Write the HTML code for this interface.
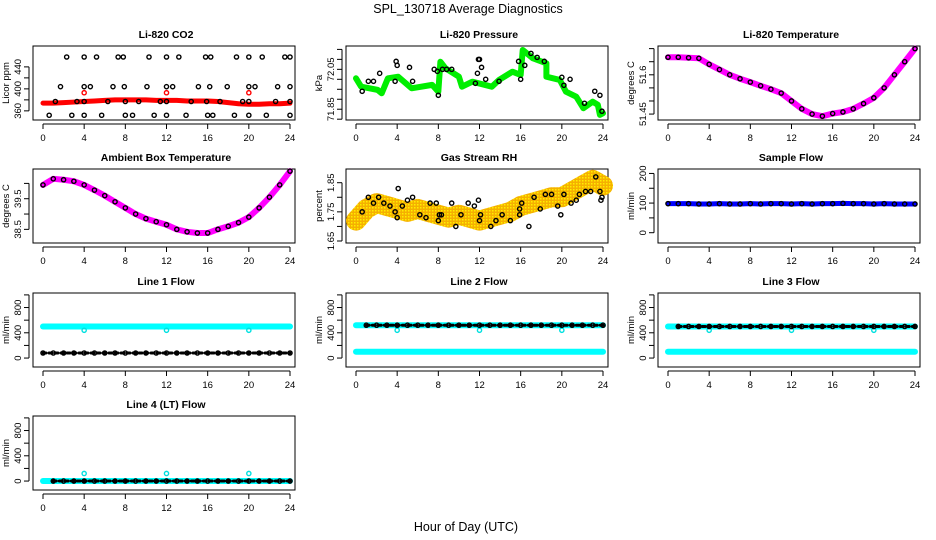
<!DOCTYPE html>
<html><head><meta charset="utf-8">
<style>
body{margin:0;background:#fff;}
svg{display:block;font-family:"Liberation Sans",Arial,sans-serif;}
</style></head>
<body>
<svg id="chart" width="936" height="540" viewBox="0 0 936 540">
<defs>
<pattern id="rhpat" width="3" height="3" patternUnits="userSpaceOnUse">
<rect width="3" height="3" fill="#f5b000"/><rect width="1.5" height="1.5" fill="#ffee00"/>
</pattern>
</defs>
<text x="468" y="13" text-anchor="middle" font-size="12.5">SPL_130718  Average Diagnostics</text>
<text x="466" y="531" text-anchor="middle" font-size="12.5">Hour of Day (UTC)</text>
</svg>
<script>
// ---- data ----
const hours = [0,1,2,3,4,5,6,7,8,9,10,11,12,13,14,15,16,17,18,19,20,21,22,23,24];
const xTicks = [0,4,8,12,16,20,24];

const co2Band = [374,374,375,376,377,378,379,380,380,380,380,379,379,379,378,378,378,377,375,373,372,372,373,373,374];
const co2RedH = [4,12,20];
const co2RedV = [393,393,393];
const co2BlkH = [2.3,4,5.2,7.3,7.8,10.3,12,13.2,15.8,16.3,18.8,20,21.3,23.5,24,
 1.7,4,4.6,6.8,7.9,10.1,12,12.6,15.1,16.2,17.9,20,20.6,22.8,24,
 1.2,3.3,4,6.3,8,9.3,11.4,12,14.4,15.9,17.2,19.4,20,22.6,24,
 0.6,2.8,4,5.7,8,8.7,10.8,12,13.9,16,16.5,18.6,20,21.7,24];
const co2BlkV = [458,458,458,458,458,458,458,458,458,458,458,458,458,458,458,
 404,404,404,404,404,404,404,404,404,404,404,404,404,404,404,
 377,377,377,377,377,377,377,377,377,377,377,377,377,377,377,
 352,352,352,352,352,352,352,352,352,352,352,352,352,352,352];

const presBandH = [0,0.5,2.1,2.5,3.1,4.1,5.4,7.4,8.0,8.2,8.7,10.0,10.3,11.3,13.2,13.9,15.2,16.0,16.2,17.2,18.5,18.5,19.8,20.4,21.4,22.1,23.0,23.5,23.7,24];
const presBandV = [72.005,71.963,71.947,71.93,72.005,72.013,71.955,71.972,71.938,72.088,72.055,72.013,71.963,71.988,71.963,71.997,72.038,72.022,72.147,72.105,72.08,72.013,71.997,71.938,71.913,71.855,71.888,71.872,71.822,71.83];
const presBlkH = [0.6,1.2,1.7,2.3,3.8,3.9,4.0,5.2,5.5,7.6,7.9,8.0,8.4,8.8,9.3,11.6,11.8,11.9,12.0,12.2,12.6,13.9,15.8,16.0,16.4,17.0,17.6,18.3,20.0,20.2,20.8,22.2,23.2,23.7,23.9];
const presBlkV = [71.94,71.99,71.99,72.03,71.99,72.09,72.07,72.06,71.99,72.05,72.04,71.92,72.05,72.05,72.05,71.98,72.03,72.1,72.1,72.06,72.0,71.99,72.09,72.0,72.07,72.13,72.11,72.09,72.01,71.97,72.0,71.88,71.94,71.92,71.84];

const ltBand = [51.667,51.667,51.665,51.663,51.640,51.620,51.600,51.585,51.572,51.558,51.545,51.530,51.500,51.470,51.450,51.442,51.452,51.458,51.470,51.490,51.512,51.550,51.600,51.650,51.700];
const ambBand = [39.95,40.15,40.12,40.07,39.95,39.78,39.6,39.4,39.2,39.0,38.85,38.75,38.65,38.5,38.42,38.38,38.38,38.5,38.6,38.72,38.9,39.2,39.55,39.95,40.4];

const rhBand = [1.72,1.76,1.78,1.77,1.76,1.75,1.76,1.75,1.74,1.73,1.74,1.73,1.72,1.73,1.74,1.75,1.77,1.78,1.79,1.80,1.80,1.82,1.84,1.86,1.84];
const rhBlkH = [0.6,1.2,1.7,2.2,2.7,3.3,3.8,4.0,4.1,4.5,5.0,5.5,6.2,6.8,7.2,7.8,8.0,8.1,8.3,9.3,9.7,10.2,10.9,11.5,11.9,12.0,12.1,13.1,13.6,14.2,15.0,15.9,15.9,16.1,16.8,17.3,17.9,18.4,19.0,19.6,19.9,20.2,20.9,21.4,21.7,22.3,22.8,23.3,23.7,23.8,23.9];
const rhBlkV = [1.75,1.80,1.78,1.80,1.78,1.77,1.75,1.73,1.83,1.77,1.79,1.80,1.74,1.73,1.78,1.78,1.72,1.74,1.74,1.78,1.70,1.74,1.78,1.77,1.79,1.72,1.74,1.70,1.72,1.74,1.72,1.74,1.76,1.78,1.70,1.80,1.76,1.81,1.81,1.77,1.74,1.81,1.78,1.79,1.81,1.82,1.82,1.87,1.82,1.79,1.80];

const sampleFlow = [98,98,98,97,97,98,97,97,98,97,98,98,97,98,97,98,98,99,98,98,97,98,97,97,97];
const l1Cyan = [500,500,500,500,500,500,500,500,500,500,500,500,500,500,500,500,500,500,500,500,500,500,500,500,500];
const l1Black = [80,80,80,80,80,80,80,80,80,80,80,80,80,80,80,80,80,80,80,80,80,80,80,80,80];
const l2Black = [520,520,520,520,520,520,520,520,520,520,520,520,520,520,520,520,520,520,520,520,520,520,520,520,520];
const l2Cyan = [100,100,100,100,100,100,100,100,100,100,100,100,100,100,100,100,100,100,100,100,100,100,100,100,100];
const l3Black = [500,500,500,500,500,500,500,500,500,500,500,500,500,500,500,500,500,500,500,500,500,500,500,500,500];
const l3Cyan = [100,100,100,100,100,100,100,100,100,100,100,100,100,100,100,100,100,100,100,100,100,100,100,100,100];
const l4Black = [0,0,0,0,0,0,0,0,0,0,0,0,0,0,0,0,0,0,0,0,0,0,0,0,0];
const dipH = [4,12,20];
const l1Dip = [440,440,440];
const l2Dip = [440,440,440];
const l3Dip = [440,440,440];
const l4Dip = [120,120,120];

// ---- drawing ----
const svg = document.getElementById('chart');
const NS = 'http://www.w3.org/2000/svg';
const colX = [43,356,668];
const rowT = [46,169,293,416];
function mk(tag, attrs, parent){
  const e = document.createElementNS(NS, tag);
  for (const k in attrs) e.setAttribute(k, attrs[k]);
  (parent||svg).appendChild(e);
  return e;
}
function panel(name, col, row, title, ylab, dom, ticks, labTicks){
  const x0 = colX[col], T = rowT[row];
  const g = mk('g', {});
  
  
  const xs = h => x0 + h/24*247;
  const ys = v => T + 72 - (v - dom[0])/(dom[1]-dom[0])*72;
  const box = mk('rect', {x:x0-10, y:T, width:262, height:74, fill:'none', stroke:'#000', 'stroke-width':1}, g);
  
  
  const t = mk('text', {x:x0+123, y:T-8, 'text-anchor':'middle', 'font-size':10.5, 'font-weight':'bold'}, g);
  t.textContent = title;
  
  
  const xa = mk('g', {}, g);
  
  
  mk('line', {x1:xs(0), x2:xs(24), y1:T+78, y2:T+78, stroke:'#000'}, xa);
  xTicks.forEach(h => {
    mk('line', {x1:xs(h), x2:xs(h), y1:T+78, y2:T+83, stroke:'#000'}, xa);
    const l = mk('text', {x:xs(h), y:T+95, 'text-anchor':'middle', 'font-size':9.5}, xa);
    l.textContent = h;
  });
  const ya = mk('g', {}, g);
  
  
  mk('line', {x1:x0-14, x2:x0-14, y1:ys(ticks[0]), y2:ys(ticks[ticks.length-1]), stroke:'#000'}, ya);
  ticks.forEach(v => {
    mk('line', {x1:x0-14, x2:x0-19, y1:ys(v), y2:ys(v), stroke:'#000'}, ya);
  });
  labTicks.forEach(v => {
    const l = mk('text', {x:0, y:0, 'text-anchor':'middle', 'font-size':9.5, transform:`translate(${x0-22},${ys(v)}) rotate(-90)`}, ya);
    l.textContent = v;
  });
  const yl = mk('text', {x:0, y:0, 'text-anchor':'middle', 'font-size':9.5, transform:`translate(${x0-34},${T+37}) rotate(-90)`}, g);
  yl.textContent = ylab;
  
  
  return {g, xs, ys};
}
function band(p, hs, vs, color, w, name){
  const pts = hs.map((h,i) => p.xs(h) + ',' + p.ys(vs[i])).join(' ');
  const e = mk('polyline', {points:pts, fill:'none', stroke:color, 'stroke-width':w, 'stroke-linejoin':'round', 'stroke-linecap':'round'}, p.g);
  
  
  return e;
}
function dots(p, hs, vs, color, name, r){
  const gg = mk('g', {}, p.g);
  
  
  hs.forEach((h,i) => {
    const c = mk('circle', {cx:p.xs(h), cy:p.ys(vs[i]), r:r||2.1, fill:'none', stroke:color, 'stroke-width':1.4}, gg);
    
    
  });
}

let p = panel('co2', 0, 0, 'Li-820 CO2', 'Licor ppm', [347,478], [360,380,400,420,440], [360,400,440]);
band(p, hours, co2Band, '#ff0000', 5, 'co2-red-band');
dots(p, co2RedH, co2RedV, '#ff0000', 'co2-red-points');
dots(p, co2BlkH, co2BlkV, '#000', 'co2-black-points');

p = panel('pressure', 1, 0, 'Li-820 Pressure', 'kPa', [71.806,72.167], [71.80,71.85,71.90,71.95,72.00,72.05,72.10,72.15], [71.85,72.05]);
band(p, presBandH, presBandV, '#00ee00', 6, 'pressure-green-band');
dots(p, presBlkH, presBlkV, '#000', 'pressure-black-points');

p = panel('li820-temp', 2, 0, 'Li-820 Temperature', 'degrees C', [51.435,51.71], [51.45,51.50,51.55,51.60,51.65,51.70], [51.45,51.60]);
band(p, hours, ltBand, '#ff00ff', 6, 'li820-temp-band');
dots(p, hours, ltBand, '#000', 'li820-temp-points');

p = panel('ambient-temp', 0, 1, 'Ambient Box Temperature', 'degrees C', [38.12,40.47], [38.5,39.0,39.5,40.0], [38.5,39.5]);
band(p, hours, ambBand, '#ff00ff', 6, 'ambient-temp-band');
dots(p, hours, ambBand, '#000', 'ambient-temp-points');

p = panel('rh', 1, 1, 'Gas Stream RH', 'percent', [1.650,1.897], [1.65,1.70,1.75,1.80,1.85], [1.65,1.75,1.85]);
band(p, hours, rhBand, 'url(#rhpat)', 20, 'rh-orange-band');
dots(p, rhBlkH, rhBlkV, '#000', 'rh-black-points');

p = panel('sample-flow', 2, 1, 'Sample Flow', 'ml/min', [-28,215], [0,50,100,150,200], [0,100,200]);
band(p, hours, sampleFlow, '#0000ff', 5, 'sample-flow-band');
dots(p, hours, sampleFlow, '#000', 'sample-flow-points');

const flowTicks = [0,200,400,600,800,1000];
const flowLab = [0,400,800];
const fdom = [-110,1030];
p = panel('line1-flow', 0, 2, 'Line 1 Flow', 'ml/min', fdom, flowTicks, flowLab);
band(p, hours, l1Cyan, '#00ffff', 6, 'line1-cyan-band');
dots(p, dipH, l1Dip, '#00e0e0', 'line1-cyan-dips');
band(p, hours, l1Black, '#000', 3, 'line1-black-band').setAttribute('stroke-dasharray','3 3');
dots(p, hours, l1Black, '#000', 'line1-black-points');

p = panel('line2-flow', 1, 2, 'Line 2 Flow', 'ml/min', fdom, flowTicks, flowLab);
band(p, hours, l2Cyan, '#00ffff', 6, 'line2-cyan-band');
band(p, hours, l2Black, '#00ffff', 6, 'line2-cyan-upper');
dots(p, dipH, l2Dip, '#00e0e0', 'line2-cyan-dips');
band(p, hours.slice(1), l2Black.slice(1), '#000', 3, 'line2-black-band').setAttribute('stroke-dasharray','3 3');
dots(p, hours.slice(1), l2Black.slice(1), '#000', 'line2-black-points');

p = panel('line3-flow', 2, 2, 'Line 3 Flow', 'ml/min', fdom, flowTicks, flowLab);
band(p, hours, l3Cyan, '#00ffff', 6, 'line3-cyan-band');
band(p, hours, l3Black, '#00ffff', 6, 'line3-cyan-upper');
dots(p, dipH, l3Dip, '#00e0e0', 'line3-cyan-dips');
band(p, hours.slice(1), l3Black.slice(1), '#000', 3, 'line3-black-band').setAttribute('stroke-dasharray','3 3');
dots(p, hours.slice(1), l3Black.slice(1), '#000', 'line3-black-points');

p = panel('line4-flow', 0, 3, 'Line 4 (LT) Flow', 'ml/min', fdom, flowTicks, flowLab);
band(p, hours, l4Black, '#00ffff', 6, 'line4-cyan-band');
dots(p, dipH, l4Dip, '#00e0e0', 'line4-cyan-dips');
band(p, hours.slice(1), l4Black.slice(1), '#000', 3, 'line4-black-band').setAttribute('stroke-dasharray','3 3');
dots(p, hours.slice(1), l4Black.slice(1), '#000', 'line4-black-points');
</script>
</body></html>
